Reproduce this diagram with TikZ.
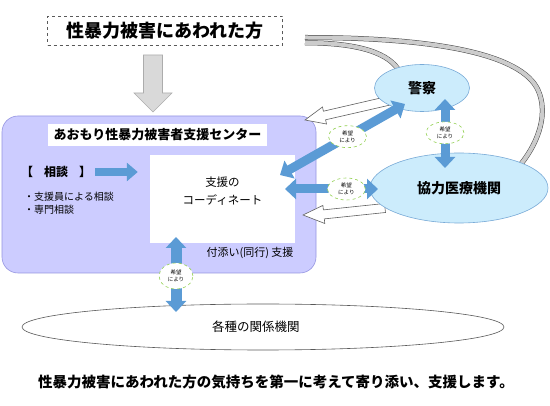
\documentclass[tikz,border=0pt]{standalone}
\usepackage{fontspec}
\setmainfont{Noto Sans CJK JP}
\usetikzlibrary{arrows.meta,shapes.geometric,calc}
\definecolor{lav}{RGB}{204,204,255}
\definecolor{lavd}{RGB}{150,150,225}
\definecolor{lb}{RGB}{204,236,252}
\definecolor{lbd}{RGB}{120,170,215}
\definecolor{blu}{RGB}{91,155,213}
\definecolor{grn}{RGB}{146,208,80}
\tikzset{
  lbell/.style={ellipse, draw=lbd, fill=lb, line width=0.6pt, inner sep=0pt},
  bluedbl/.style={draw=blu, line width=9pt,
    {Triangle[length=11pt,width=20pt]}-{Triangle[length=11pt,width=20pt]}},
  bluesgl/.style={draw=blu, line width=8pt, -{Triangle[length=11pt,width=18pt]}},
  hope/.style={ellipse, draw=grn, dashed, fill=white, line width=0.6pt,
    minimum width=38pt, minimum height=22pt, inner sep=0pt, align=center,
    font=\fontsize{5.5pt}{6.5pt}\selectfont},
  whitearr/.style={fill=white, draw=gray!75!black, line width=0.6pt, line join=miter},
  grayband/.style={draw=gray!55!black, line width=0.5pt, double=gray!40, double distance=4pt, line cap=butt},
}
\begin{document}
\begin{tikzpicture}[x=1pt,y=-1pt]
\useasboundingbox[fill=white] (0,0) rectangle (550,406);

% top box
\node[draw=gray!70!black, dashed, line width=0.6pt, minimum width=235pt, minimum height=29pt,
  inner sep=0pt, font=\bfseries\fontsize{18pt}{21pt}\selectfont] (victim) at (165,31) {性暴力被害にあわれた方};

% gray down arrow
\draw[fill=gray!30, draw=gray!65, line width=0.6pt]
  (143.5,55) -- (162.5,55) -- (162.5,93) -- (172,93) -- (153,112) -- (134,93) -- (143.5,93) -- cycle;

% center
\node[draw=lavd, fill=lav, line width=0.6pt, rounded corners=16pt, minimum width=314pt, minimum height=157pt] (center) at (159,194.5) {};
\node[fill=white, minimum width=219pt, minimum height=22pt, inner sep=0pt,
  font=\bfseries\fontsize{13pt}{15pt}\selectfont] (title) at (157.5,135) {あおもり性暴力被害者支援センター};
\node[fill=white, minimum width=145pt, minimum height=88pt, inner sep=0pt] (coord) at (222.5,199) {};
\node[align=center, inner sep=0pt, font=\fontsize{11.5pt}{17.5pt}\selectfont] (coordtxt) at (222.5,191) {支援の\\コーディネート};
\node[anchor=west, inner sep=0pt, font=\bfseries\fontsize{12pt}{14pt}\selectfont] (soudan) at (21,172) {【\hspace{11pt}相談\hspace{11pt}】};
\node[anchor=west, inner sep=0pt, align=left, font=\fontsize{10pt}{13pt}\selectfont] (list) at (24,203) {・支援員による相談\\・専門相談};
\node[inner sep=0pt, font=\fontsize{11pt}{13pt}\selectfont] (tsukisoi) at (250,253) {付添い(同行) 支援};
\draw[bluesgl] ($(soudan.east)+(4,0)$) -- ($(coord.west |- soudan.east)+(-12,0)$);

% white arrows
\draw[whitearr] (305,120) -- (326.5,124) -- (325.6,119.8) -- (392.9,104.4) -- (391.1,95.6) -- (323.4,111.2) -- (322.5,107) -- cycle;
\draw[whitearr] (303,215) -- (324.8,223.5) -- (324.3,218.9) -- (385.5,212.5) -- (384.5,203.5) -- (323.4,209.9) -- (322.9,205.4) -- cycle;

% gray bands
\coordinate (bandA) at (305,42.8);
\coordinate (bandB) at (305,37.5);
\coordinate (bandAend) at (398,69);
\coordinate (bandBend) at (521,164);
\draw[grayband] (bandA) .. controls (350,42.8) and (385,50) .. (bandAend);
\draw[grayband] (bandB) .. controls (440,37.5) and (522,55) .. (538,90) .. controls (548,112) and (540,140) .. (bandBend);

% ellipses
\node[lbell, minimum width=95pt, minimum height=47pt, font=\bfseries\fontsize{14pt}{16pt}\selectfont] (police) at (422,88) {警察};
\node[lbell, minimum width=178pt, minimum height=70pt, font=\bfseries\fontsize{14pt}{16pt}\selectfont] (med) at (459,188) {協力医療機関};
\node[ellipse, draw=gray!70!black, line width=0.6pt, minimum width=482pt, minimum height=46pt] (others) at (263,327) {};
\node[anchor=west, inner sep=0pt, font=\fontsize{12.5pt}{14pt}\selectfont] (otherstxt) at (212,327) {各種の関係機関};

% blue double arrows
\coordinate (pA) at (445,99);
\coordinate (mA) at (445,168);
\draw[bluedbl] (pA) -- (mA) node[hope, pos=0.49] (h1) {希望\\により};
\coordinate (cD) at (280,175);
\coordinate (pD) at (405,104);
\draw[bluedbl] (cD) -- (pD) node[hope, pos=0.54] (h2) {希望\\により};
\coordinate (cH) at (285,189);
\coordinate (mH) at (378,189);
\draw[bluedbl] (cH) -- (mH) node[hope, pos=0.66] (h3) {希望\\により};
\coordinate (cV) at (176,237);
\coordinate (oV) at (176,312);
\draw[bluedbl, line width=11pt] (cV) -- (oV) node[hope, pos=0.52, minimum width=34pt, minimum height=26pt] (h4) {希望\\により};

% bottom sentence
\node[inner sep=0pt, font=\bfseries\fontsize{14.5pt}{17pt}\selectfont] (msg) at (276,382) {性暴力被害にあわれた方の気持ちを第一に考えて寄り添い、支援します。};
\end{tikzpicture}
\end{document}
